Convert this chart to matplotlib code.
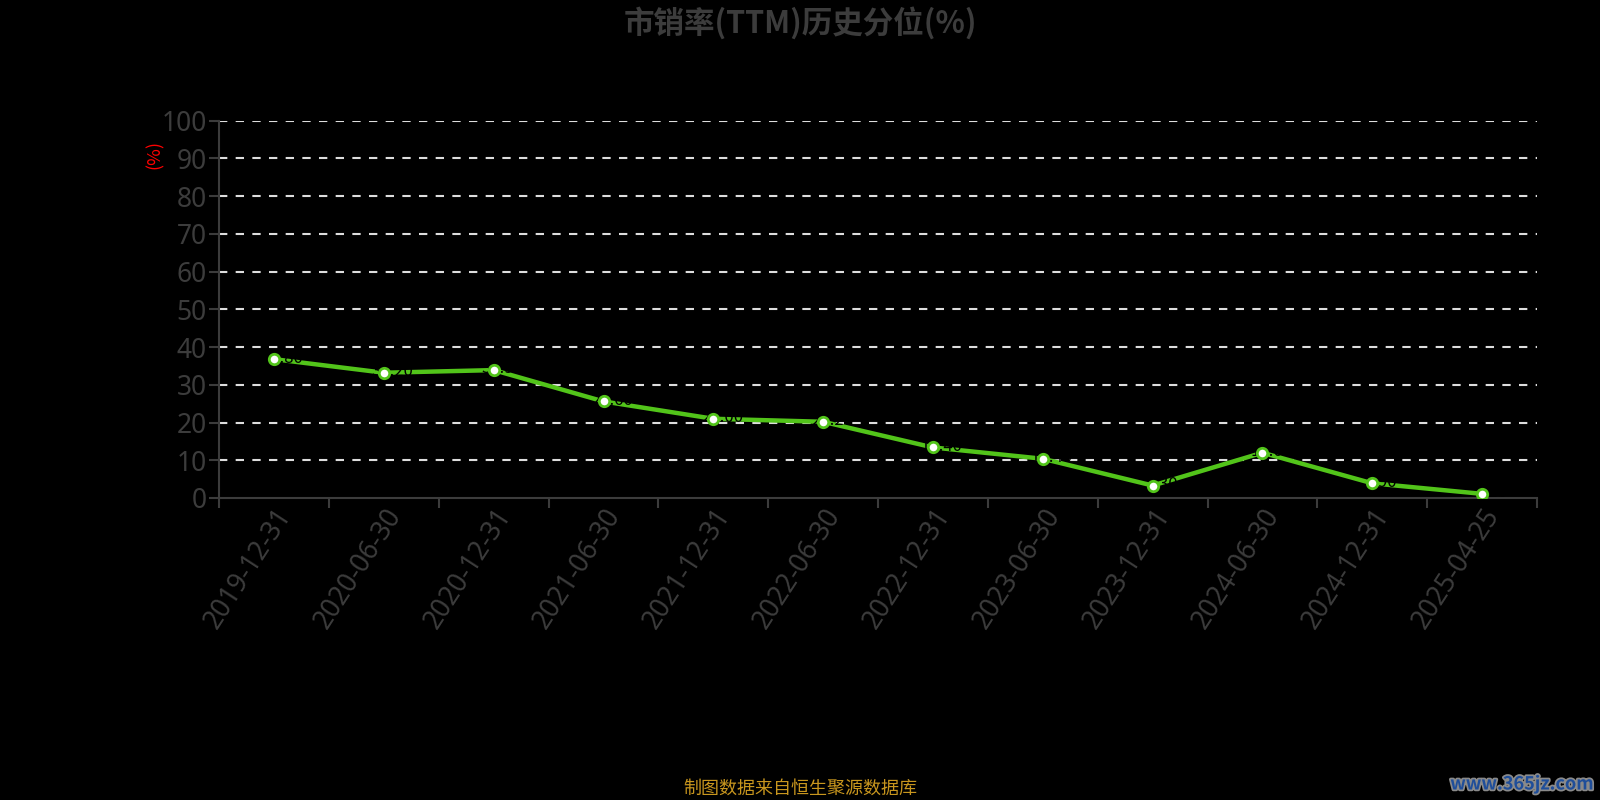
import matplotlib.pyplot as plt
import matplotlib.patheffects as pe
import numpy as np

plt.rcParams['font.family'] = ['Noto Sans CJK SC', 'DejaVu Sans']

dates = ["2019-12-31", "2020-06-30", "2020-12-31", "2021-06-30", "2021-12-31",
         "2022-06-30", "2022-12-31", "2023-06-30", "2023-12-31", "2024-06-30",
         "2024-12-31", "2025-04-25"]
pct = [36.8, 33.2, 33.9, 25.6, 21.0, 20.2, 13.4, 10.4, 3.3, 12.0, 3.9, 1.1]
yticks = [0, 10, 20, 30, 40, 50, 60, 70, 80, 90, 100]

axis_col = '#3c3c3c'
green = '#52c41a'

fig = plt.figure(figsize=(16, 8), dpi=100, facecolor='black')
ax = fig.add_axes([0.137, 0.3775, 0.8236, 0.4716], facecolor='black')

x = np.arange(len(dates))
for v in yticks[1:]:
    ax.axhline(v, color='#dddddd', lw=1.5, ls=(0, (4, 4)), zorder=1)
ax.plot(x, pct, color=green, lw=3.2, zorder=3)
# labels are black on black, they only show where they cross the line
for xi, v in zip(x, pct):
    ax.text(xi + 0.08, v + 0.3, f"{v:.2f}", color='black', fontsize=12,
            ha='center', va='center', zorder=4)
ax.plot(x, pct, ls='none', marker='o', ms=7.5, mfc='white', mec=green,
        mew=2, zorder=5)

ax.set_xlim(-0.5, len(dates) - 0.5)
ax.set_ylim(0, 100)
ax.set_yticks(yticks)
ax.set_yticklabels([str(v) for v in yticks], family=['Noto Sans', 'DejaVu Sans'])
ax.set_xticks(np.arange(len(dates) + 1) - 0.5)
ax.set_xticklabels([])
ax.set_xticks(x, minor=True)
ax.set_xticklabels(dates, minor=True, rotation=57, ha='right', va='top',
                   rotation_mode='anchor', family=['Noto Sans', 'DejaVu Sans'])
ax.tick_params(axis='x', which='major', length=7, width=1.5, color=axis_col)
ax.tick_params(axis='x', which='minor', length=0, pad=4, labelsize=19,
               labelcolor=axis_col)
ax.tick_params(axis='y', length=7, width=1.5, color=axis_col, labelsize=19,
               labelcolor=axis_col, pad=2)

for s in ['top', 'right']:
    ax.spines[s].set_visible(False)
for s in ['left', 'bottom']:
    ax.spines[s].set_color(axis_col)
    ax.spines[s].set_linewidth(1.5)

fig.text(0.097, 0.807, "(%)", color='red', fontsize=13, rotation=90,
         ha='center', va='center')
fig.text(0.5, 0.971, "市销率(TTM)历史分位(%)", color=axis_col, fontsize=22,
         fontweight='bold', ha='center', va='center')
fig.text(0.5, 0.014, "制图数据来自恒生聚源数据库", color='#c8961e', fontsize=13,
         ha='center', va='center')
fig.text(0.996, 0.02, "www.365jz.com", color='#1f4e9a', fontsize=13,
         fontweight='bold', ha='right', va='center',
         path_effects=[pe.withStroke(linewidth=2.5, foreground='#8a8a8a')])

fig.savefig('out.png', dpi=100, facecolor='black')
